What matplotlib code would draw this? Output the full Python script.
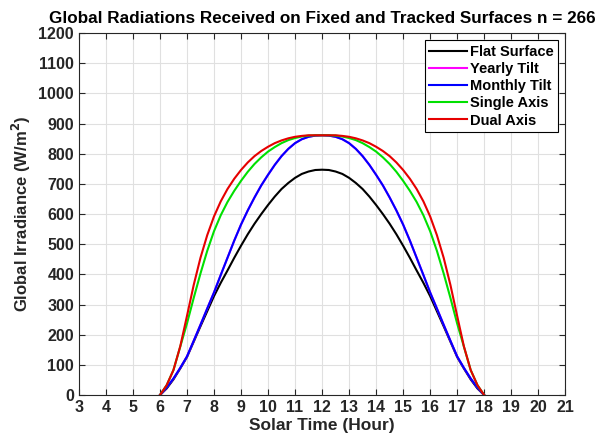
import numpy as np
import matplotlib
matplotlib.use("Agg")
import matplotlib.pyplot as plt

# ── Data (quarter-hour steps) ────────────────────────────────────────────────
hours = [6, 6.25, 6.5, 6.75, 7, 7.25, 7.5, 7.75, 8, 8.25, 8.5, 8.75, 9,
         9.25, 9.5, 9.75, 10, 10.25, 10.5, 10.75, 11, 11.25, 11.5, 11.75, 12,
         12.25, 12.5, 12.75, 13, 13.25, 13.5, 13.75, 14, 14.25, 14.5, 14.75, 15,
         15.25, 15.5, 15.75, 16, 16.25, 16.5, 16.75, 17, 17.25, 17.5, 17.75, 18]

flat = [0, 22, 52, 88, 126, 177, 228, 278, 328, 372, 413, 455, 495,
        533, 568, 600, 630, 658, 683, 703, 720, 733, 741, 746, 747,
        746, 741, 733, 720, 703, 683, 658, 630, 600, 568, 533, 495,
        455, 413, 372, 328, 278, 228, 177, 126, 88, 52, 22, 0]
yearly = [0, 25, 55, 90, 128, 180, 233, 287, 340, 398, 455, 512, 565,
          612, 655, 695, 730, 763, 792, 816, 835, 848, 856, 860, 861,
          860, 856, 848, 835, 816, 792, 763, 730, 695, 655, 612, 565,
          512, 455, 398, 340, 287, 233, 180, 128, 90, 55, 25, 0]
monthly = [0, 25, 55, 90, 128, 180, 233, 287, 340, 398, 455, 512, 565,
           612, 655, 695, 730, 763, 792, 816, 835, 848, 856, 860, 861,
           860, 856, 848, 835, 816, 792, 763, 730, 695, 655, 612, 565,
           512, 455, 398, 340, 287, 233, 180, 128, 90, 55, 25, 0]
single = [0, 33, 83, 160, 237, 322, 403, 478, 543, 596, 640, 677, 710,
          740, 766, 788, 807, 822, 835, 845, 852, 857, 860, 861, 861,
          861, 860, 857, 852, 845, 835, 822, 807, 788, 766, 740, 710,
          677, 640, 596, 543, 478, 403, 322, 237, 160, 83, 33, 0]
dual = [0, 33, 83, 161, 262, 365, 455, 530, 592, 642, 683, 717, 746,
        771, 792, 809, 823, 835, 844, 851, 856, 859, 861, 861, 861,
        861, 861, 859, 856, 851, 844, 835, 823, 809, 792, 771, 746,
        717, 683, 642, 592, 530, 455, 365, 262, 161, 83, 33, 0]

labels = ["Flat Surface", "Yearly Tilt", "Monthly Tilt", "Single Axis", "Dual Axis"]
colors = ["black", "#ff00ff", "#0000ff", "#00e000", "#e60000"]

xticks = np.arange(3, 22, 1)
yticks = np.arange(0, 1300, 100)

# ── Figure ───────────────────────────────────────────────────────────────────
plt.rcParams["font.family"] = ["Liberation Sans", "DejaVu Sans"]
plt.rcParams["font.weight"] = "bold"

fig = plt.figure(figsize=(6.02, 4.40), dpi=100)
ax = fig.add_axes([0.131, 0.102, 0.808, 0.823])

for series, lbl, col in zip([flat, yearly, monthly, single, dual], labels, colors):
    ax.plot(hours, series, color=col, lw=1.5, label=lbl)

ax.set_xlim(3, 21)
ax.set_ylim(0, 1200)
ax.set_xticks(xticks)
ax.set_yticks(yticks)
ax.tick_params(direction="in", top=True, right=True, length=4,
               labelsize=11.5, colors="#262626", labelcolor="#262626")
for lbl in ax.get_xticklabels() + ax.get_yticklabels():
    lbl.set_fontweight("bold")
ax.grid(True, color="#e0e0e0", lw=0.8)
for sp in ax.spines.values():
    sp.set_color("#262626")
    sp.set_linewidth(0.8)

ax.set_xlabel("Solar Time (Hour)", fontsize=12.5, fontweight="bold",
              color="#262626", labelpad=2)
ax.set_ylabel("Global Irradiance (W/m$^\\mathbf{2}$)", fontsize=12,
              fontweight="bold", color="#262626", labelpad=4)
ax.set_title("Global Radiations Received on Fixed and Tracked Surfaces n = 266",
             fontsize=12.3, fontweight="bold", color="black", pad=7)

leg = ax.legend(loc="upper right", fontsize=10.5, fancybox=False,
                edgecolor="black", framealpha=1, handlelength=2.6,
                handletextpad=0.2, borderpad=0.3, labelspacing=0.22,
                borderaxespad=0.5)
leg.get_frame().set_linewidth(0.8)
for t in leg.get_texts():
    t.set_fontweight("bold")

plt.savefig("out.png", dpi=100)
plt.close()
